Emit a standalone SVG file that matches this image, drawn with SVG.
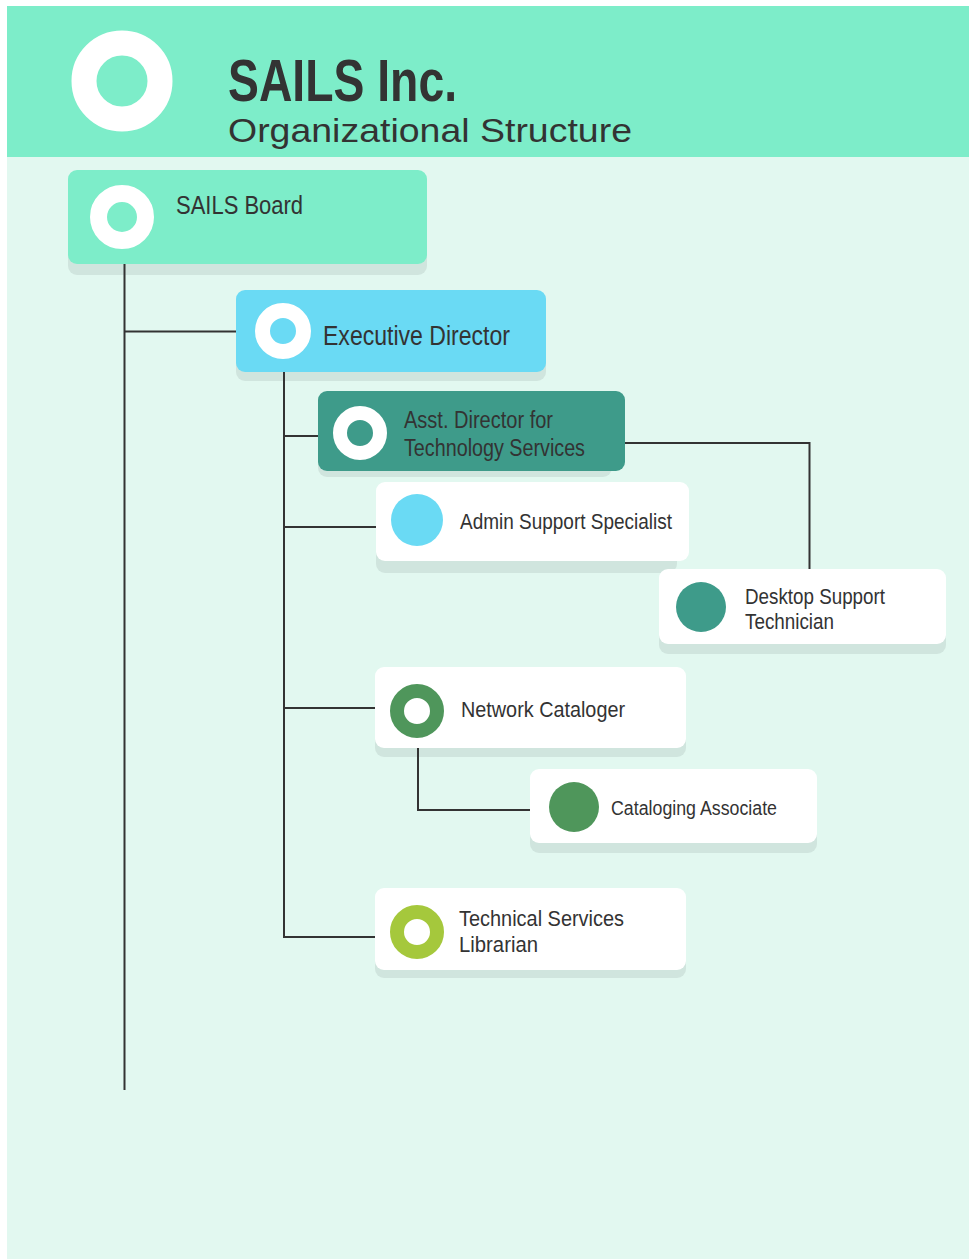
<svg xmlns="http://www.w3.org/2000/svg" width="969" height="1259" viewBox="0 0 969 1259">
<style>
.lbl{font-family:"Liberation Sans",Arial,sans-serif;fill:#333333}
.con{fill:none;stroke:#333333;stroke-width:2}
.shadow{fill:#D0E5DE}
.white{fill:#FFFFFF}
</style>
<rect x="0" y="0" width="969" height="1259" fill="#FFFFFF"/>
<rect x="7" y="6" width="962" height="1253" fill="#E2F8F0"/>
<g id="header">
<rect x="7" y="6" width="962" height="151" fill="#7DEDC9"/>
<circle cx="122" cy="81" r="38" fill="none" stroke="#FFFFFF" stroke-width="25"/>
<text x="228" y="101" font-family="Liberation Sans, Arial, sans-serif" font-weight="bold" font-size="60" fill="#333333" textLength="229" lengthAdjust="spacingAndGlyphs">SAILS Inc.</text>
<text x="228" y="142" font-family="Liberation Sans, Arial, sans-serif" font-size="34" fill="#333333" textLength="404" lengthAdjust="spacingAndGlyphs">Organizational Structure</text>
</g>
<g id="sails-board">
<rect class="shadow" x="68" y="180" width="359" height="95" rx="9"/>
<rect x="68" y="170" width="359" height="94" rx="9" fill="#7DEDC9"/>
<circle cx="122" cy="217" r="23.5" fill="none" stroke="#FFFFFF" stroke-width="17"/>
<text class="lbl" x="176" y="214" font-size="25" textLength="127" lengthAdjust="spacingAndGlyphs">SAILS Board</text>
</g>
<g id="executive-director">
<rect class="shadow" x="236" y="299" width="310" height="82" rx="9"/>
<rect x="236" y="290" width="310" height="82" rx="9" fill="#6ADAF4"/>
<circle cx="283" cy="331" r="20.5" fill="none" stroke="#FFFFFF" stroke-width="15"/>
<text class="lbl" x="323" y="345" font-size="27" textLength="187" lengthAdjust="spacingAndGlyphs">Executive Director</text>
</g>
<g id="asst-director">
<rect class="shadow" x="318" y="397" width="294" height="80" rx="9"/>
<rect x="318" y="391" width="307" height="80" rx="9" fill="#3E9B8A"/>
<circle cx="360" cy="433" r="20" fill="none" stroke="#FFFFFF" stroke-width="14"/>
<text class="lbl" x="404" y="428" font-size="23" textLength="149" lengthAdjust="spacingAndGlyphs">Asst. Director for</text>
<text class="lbl" x="404" y="456" font-size="23" textLength="181" lengthAdjust="spacingAndGlyphs">Technology Services</text>
</g>
<g id="admin-support">
<rect class="shadow" x="376" y="492" width="301" height="81" rx="9"/>
<rect class="white" x="376" y="482" width="313" height="79" rx="9"/>
<circle cx="417" cy="520" r="26" fill="#6ADAF4"/>
<text class="lbl" x="460" y="529" font-size="22" textLength="212" lengthAdjust="spacingAndGlyphs">Admin Support Specialist</text>
</g>
<g id="desktop-support">
<rect class="shadow" x="659" y="578" width="287" height="76" rx="9"/>
<rect class="white" x="659" y="569" width="287" height="75" rx="9"/>
<circle cx="701" cy="607" r="25" fill="#3E9B8A"/>
<text class="lbl" x="745" y="604" font-size="22" textLength="140" lengthAdjust="spacingAndGlyphs">Desktop Support</text>
<text class="lbl" x="745" y="629" font-size="22" textLength="89" lengthAdjust="spacingAndGlyphs">Technician</text>
</g>
<g id="network-cataloger">
<rect class="shadow" x="375" y="676" width="311" height="81" rx="9"/>
<rect class="white" x="375" y="667" width="311" height="81" rx="9"/>
<circle cx="417" cy="711" r="20" fill="none" stroke="#4F965B" stroke-width="14"/>
<text class="lbl" x="461" y="717" font-size="22" textLength="164" lengthAdjust="spacingAndGlyphs">Network Cataloger</text>
</g>
<g id="cataloging-associate">
<rect class="shadow" x="530" y="778" width="287" height="75" rx="9"/>
<rect class="white" x="530" y="769" width="287" height="74" rx="9"/>
<circle cx="574" cy="807" r="25" fill="#4F965B"/>
<text class="lbl" x="611" y="815" font-size="20" textLength="166" lengthAdjust="spacingAndGlyphs">Cataloging Associate</text>
</g>
<g id="technical-services-librarian">
<rect class="shadow" x="375" y="897" width="311" height="81" rx="9"/>
<rect class="white" x="375" y="888" width="311" height="82" rx="9"/>
<circle cx="417" cy="932" r="20" fill="none" stroke="#A5C83C" stroke-width="14"/>
<text class="lbl" x="459" y="926" font-size="22" textLength="165" lengthAdjust="spacingAndGlyphs">Technical Services</text>
<text class="lbl" x="459" y="952" font-size="22" textLength="79" lengthAdjust="spacingAndGlyphs">Librarian</text>
</g>
<g id="connectors">
<path class="con" d="M124.5 264 V1090"/>
<path class="con" d="M124.5 331.5 H236"/>
<path class="con" d="M284 372 V937 H375"/>
<path class="con" d="M284 436 H318"/>
<path class="con" d="M284 527 H376"/>
<path class="con" d="M284 708 H375"/>
<path class="con" d="M625 443 H809.5 V569"/>
<path class="con" d="M418 748 V810 H530"/>
</g>
</svg>
